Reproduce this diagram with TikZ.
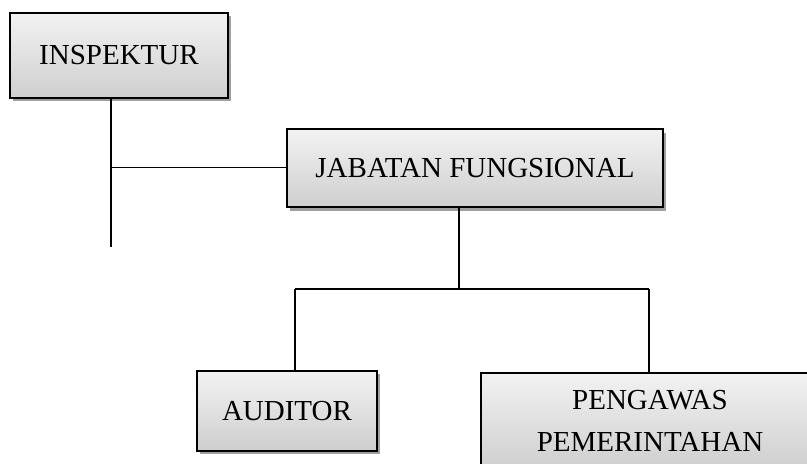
\documentclass[tikz,border=0pt]{standalone}
\usepackage{fontspec}
\setmainfont{Liberation Serif}
\usetikzlibrary{shadows}
\begin{document}
\begin{tikzpicture}[x=1pt,y=1pt,
  orgbox/.style={draw=black, line width=1.9pt, top color=gray!10, bottom color=gray!38,
    inner sep=0pt, align=center, font=\fontsize{29}{42}\selectfont,
    drop shadow={shadow xshift=2.5pt, shadow yshift=-3.5pt, fill=gray!75, opacity=1}},
  link/.style={line width=1.9pt, draw=black}]
\useasboundingbox (0,0) rectangle (807,464);
\clip (0,0) rectangle (807,464);
\fill[white] (0,0) rectangle (807,464);
% boxes (y = 464 - pixel y)
\node[orgbox, minimum width=218pt, minimum height=85pt] (insp) at (119,408.5) {INSPEKTUR};
\node[orgbox, minimum width=376pt, minimum height=78pt] (jab) at (475,295.7) {JABATAN FUNGSIONAL};
\node[orgbox, minimum width=180pt, minimum height=80pt] (aud) at (287,53) {AUDITOR};
\node[orgbox, minimum width=338pt, minimum height=96pt] (peng) at (650,43) {PENGAWAS\\PEMERINTAHAN};
% junction coordinates
\coordinate (vx) at (111,464);
\coordinate (vend) at (111,217);
\coordinate (hj) at (111,296.5);
\coordinate (jx) at (459,464);
\coordinate (bar) at (459,175);
\coordinate (ax) at (295,175);
\coordinate (px) at (649,175);
% connectors
\draw[link] (insp.south -| vx) -- (vend);
\draw[link] (hj) -- (jab.west |- hj);
\draw[link] (jab.south -| jx) -- (bar);
\draw[link] (ax) -- (px);
\draw[link] (ax) -- (aud.north -| ax);
\draw[link] (px) -- (peng.north -| px);
\end{tikzpicture}
\end{document}
